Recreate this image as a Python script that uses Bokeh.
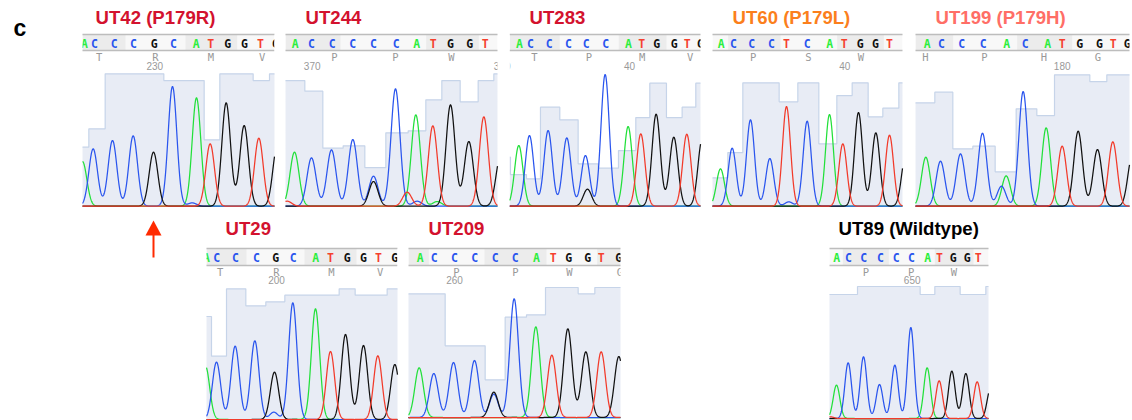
import numpy as np
from bokeh.embed import file_html
from bokeh.models import Range1d
from bokeh.plotting import figure
from bokeh.resources import INLINE
from bokeh.core.properties import value

# ---- data: positions are trace scan units (3 units = 1 screen pixel), heights are signal units
UT42_seq = "ACCCGCATGGTG"
UT42_letter_pos = [6, 36, 95, 153, 215, 273, 341, 385, 436, 486, 534, 579]
UT42_aa = "TRMV"
UT42_aa_pos = [50, 219, 385, 539]
UT42_num = ["230"]
UT42_num_pos = [217]
UT42_bands = [(0, 129), (309, 464)]
UT42_peak_base = "ACCCGCCATGGTG"
UT42_peak_pos = [0, 32, 90, 152, 213, 270, 329, 342, 383, 431, 485, 529, 584]
UT42_peak_h = [134, 172, 197, 211, 162, 359, 10, 325, 187, 310, 242, 204, 180]
UT42_q_edges = [0, 19, 68, 244, 365, 412, 512, 561, 576]
UT42_q_level = [177, 232, 397, 377, 199, 397, 377, 397]

UT244_seq = "ACCCCCATGGT"
UT244_letter_pos = [29, 78, 140, 202, 264, 332, 394, 443, 495, 553, 599]
UT244_aa = "PPW"
UT244_aa_pos = [147, 330, 498]
UT244_num = ["370", "380"]
UT244_num_pos = [80, 650]
UT244_bands = [(0, 165), (422, 580)]
UT244_peak_base = "TACCCCGCTCATGGTAG"
UT244_peak_pos = [5, 27, 78, 138, 202, 264, 264, 330, 365, 395, 391, 442, 495, 550, 595, 455, 645]
UT244_peak_h = [15, 162, 145, 169, 200, 90, 74, 352, 42, 15, 274, 241, 304, 194, 268, 14, 150]
UT244_q_edges = [0, 58, 112, 173, 238, 301, 368, 421, 469, 524, 578, 625, 636]
UT244_q_level = [377, 345, 174, 181, 116, 220, 226, 319, 377, 313, 377, 397]

UT283_seq = "ACCCCCATGGTG"
UT283_letter_pos = [29, 62, 118, 176, 229, 288, 356, 396, 441, 493, 532, 572]
UT283_aa = "TPMV"
UT283_aa_pos = [74, 237, 397, 541]
UT283_num = ["40"]
UT283_num_pos = [359]
UT283_bands = [(0, 150), (327, 470)]
UT283_peak_base = "ACCCCGCATGGTG"
UT283_peak_pos = [27, 59, 115, 171, 227, 233, 286, 355, 393, 439, 492, 531, 577]
UT283_peak_h = [182, 212, 227, 205, 152, 51, 395, 239, 217, 276, 207, 216, 200]
UT283_q_edges = [0, 2, 50, 92, 150, 205, 265, 326, 378, 420, 470, 517, 558, 573]
UT283_q_level = [147, 95, 82, 297, 259, 127, 114, 167, 266, 369, 266, 297, 369]

UT60_seq = "ACCCTCATGGT"
UT60_letter_pos = [26, 63, 118, 177, 222, 284, 352, 395, 443, 489, 531]
UT60_aa = "PSW"
UT60_aa_pos = [122, 288, 445]
UT60_num = ["40"]
UT60_num_pos = [397]
UT60_bands = [(47, 204), (374, 514)]
UT60_peak_base = "ACCCTCCATGGTG"
UT60_peak_pos = [24, 59, 114, 172, 222, 229, 284, 351, 391, 438, 490, 531, 579]
UT60_peak_h = [112, 174, 259, 143, 299, 13, 255, 275, 187, 281, 220, 213, 150]
UT60_q_edges = [0, 46, 91, 200, 256, 319, 373, 419, 467, 511, 559, 570]
UT60_q_level = [85, 161, 370, 313, 370, 187, 332, 370, 268, 294, 370]

UT199_seq = "ACCCACATGGTG"
UT199_letter_pos = [35, 78, 139, 203, 274, 329, 397, 440, 493, 552, 593, 635]
UT199_aa = "HPHG"
UT199_aa_pos = [30, 207, 385, 547]
UT199_num = ["180"]
UT199_num_pos = [440]
UT199_bands = [(0, 113), (305, 470)]
UT199_peak_base = "ACCCCACATGGTG"
UT199_peak_pos = [31, 75, 135, 201, 258, 272, 323, 392, 440, 488, 546, 592, 650]
UT199_peak_h = [147, 135, 157, 219, 60, 91, 344, 235, 180, 225, 170, 193, 150]
UT199_q_edges = [0, 58, 112, 172, 239, 302, 364, 417, 523, 574, 642]
UT199_q_level = [310, 342, 172, 180, 103, 292, 272, 394, 374, 394]

UT29_seq = "ACCCGCATGGTG"
UT29_letter_pos = [0, 31, 87, 150, 208, 260, 328, 372, 422, 471, 516, 565]
UT29_aa = "TRMV"
UT29_aa_pos = [41, 210, 375, 521]
UT29_num = ["200"]
UT29_num_pos = [210]
UT29_bands = [(0, 120), (294, 450)]
UT29_peak_base = "ACCCGCCATGGTG"
UT29_peak_pos = [-3, 30, 86, 145, 204, 202, 259, 327, 372, 417, 471, 514, 565]
UT29_peak_h = [160, 172, 220, 236, 142, 22, 350, 332, 204, 255, 222, 191, 165]
UT29_q_edges = [0, 15, 60, 118, 178, 235, 398, 446, 542, 573]
UT29_q_level = [309, 190, 392, 341, 353, 373, 392, 373, 392]

UT209_seq = "ACCCCCATGGTG"
UT209_letter_pos = [35, 77, 138, 199, 260, 320, 384, 434, 481, 538, 578, 631]
UT209_aa = "PPWG"
UT209_aa_pos = [144, 321, 483, 634]
UT209_num = ["260"]
UT209_num_pos = [138]
UT209_bands = [(0, 61), (228, 414), (566, 636)]
UT209_peak_base = "ACCCGCCATGGTG"
UT209_peak_pos = [32, 76, 135, 198, 256, 256, 317, 382, 430, 478, 532, 578, 631]
UT209_peak_h = [149, 132, 165, 171, 76, 70, 356, 272, 187, 266, 197, 197, 183]
UT209_q_edges = [0, 110, 230, 290, 354, 411, 509, 559, 636]
UT209_q_level = [371, 215, 113, 301, 308, 390, 371, 390]

UT89_seq = "ACCCCCATGGT"
UT89_letter_pos = [22, 57, 103, 153, 200, 246, 295, 330, 371, 413, 446]
UT89_aa = "PPW"
UT89_aa_pos = [109, 245, 373]
UT89_num = ["650"]
UT89_num_pos = [248]
UT89_bands = [(40, 178), (316, 432)]
UT89_peak_base = "TACCCCCATGGTG"
UT89_peak_pos = [3, 21, 56, 102, 150, 196, 244, 293, 329, 367, 409, 443, 483]
UT89_peak_h = [5, 100, 167, 185, 102, 160, 273, 152, 113, 142, 135, 110, 90]
UT89_q_edges = [0, 84, 272, 316, 392, 469, 477]
UT89_q_level = [372, 396, 372, 396, 372, 396]

SAMPLES = ["UT42 (P179R)", "UT244", "UT283", "UT60 (P179L)", "UT199 (P179H)", "UT29", "UT209", "UT89 (Wildtype)"]

# ---- layout and style (image pixels)
W, H = 1132, 420
UNITS = 3.0
TOP = dict(head0=34, head1=50, letter=43, aa=56, num=65, base=205.7)
BOT = dict(head0=248, head1=265, letter=257.5, aa=271, num=279.5, base=419)
RED, ORANGE, SALMON, INK = "#d3122e", "#fb7f1c", "#ff6e66", "#000000"
COL = {"A": "#22e03a", "C": "#2a55ee", "G": "#111111", "T": "#f23a2a"}
LETTER = {"A": "#2bee3c", "C": "#2a55ee", "G": "#111111", "T": "#f5402e"}
panels = [
    ("UT42", 82, 274, TOP, 205.7, 95, 17, RED, 13.0),
    ("UT244", 285, 497, TOP, 205.7, 305, 17, RED, 13.5),
    ("UT283", 509.3, 700, TOP, 205.7, 529, 17, RED, 12.5),
    ("UT60", 712, 902, TOP, 205.7, 732, 17, ORANGE, 12.0),
    ("UT199", 915, 1129, TOP, 205.7, 935, 17, SALMON, 13.0),
    ("UT29", 206, 397, BOT, 419, 225, 228, RED, 12.5),
    ("UT209", 408, 620, BOT, 417, 428, 228, RED, 13.0),
    ("UT89", 829, 988, BOT, 418, 838, 228, INK, 10.0),
]

p = figure(width=W, height=H, output_backend="svg", toolbar_location=None,
           x_range=Range1d(0, W), y_range=Range1d(H, 0), min_border=0,
           outline_line_color=None, background_fill_color="white", border_fill_color="white")
p.axis.visible = False
p.grid.visible = False

g = globals()
for i, (key, x0, x1, row, base, tx, ty, tcol, sigma) in enumerate(panels):
    edges = np.array(g[key + "_q_edges"], float) / UNITS + x0
    lev = np.array(g[key + "_q_level"], float) / UNITS
    edges[-1] = x1
    # quality shading as a step area
    sx = np.repeat(edges, 2)[1:-1]
    sy = base - np.repeat(lev, 2)
    p.varea(x=sx, y1=sy, y2=[base] * len(sx), fill_color="#e8ecf5")
    p.line(sx, sy, line_color="#c6d4e9", line_width=1.2)

    # header strip
    p.quad(left=[x0], right=[x1], top=[row["head0"]], bottom=[row["head1"]], fill_color="#f8f8f8", line_color=None)
    for b0, b1 in g[key + "_bands"]:
        p.quad(left=[x0 + b0 / UNITS], right=[min(x1, x0 + b1 / UNITS)], top=[row["head0"]], bottom=[row["head1"]],
               fill_color="#ececec", line_color=None)
    lx = [x0 + v / UNITS for v in g[key + "_letter_pos"]]
    seq = list(g[key + "_seq"])
    p.text(lx, [row["letter"]] * len(lx), text=seq, text_color=[LETTER[c] for c in seq],
           text_font=value("DejaVu Sans Mono"), text_font_style="bold", text_font_size="11.5px",
           text_align="center", text_baseline="middle")
    ax = [x0 + v / UNITS for v in g[key + "_aa_pos"]]
    p.text(ax, [row["aa"]] * len(ax), text=list(g[key + "_aa"]), text_color="#999999",
           text_font=value("DejaVu Sans Mono"), text_font_size="10.5px", text_align="center", text_baseline="middle")
    nx = [x0 + v / UNITS for v in g[key + "_num_pos"]]
    p.text(nx, [row["num"]] * len(nx), text=g[key + "_num"], text_color="#999999",
           text_font=value("Liberation Sans"), text_font_size="10px", text_align="center", text_baseline="middle")
    # masks so that letters are cut at the strip's ends
    p.quad(left=[x0 - 11, x1], right=[x0, x1 + 12], top=[row["head0"]] * 2, bottom=[row["num"] + 6] * 2,
           fill_color="white", line_color=None)
    p.segment(x0=[x0, x0], x1=[x1, x1], y0=[row["head0"], row["head1"]], y1=[row["head0"], row["head1"]],
              line_color="#bdbdbd", line_width=1.5)

    # traces: every peak is drawn from its read position and height
    xs = np.arange(0, (x1 - x0) * UNITS + 0.5, 0.75)
    pos = np.array(g[key + "_peak_pos"], float)
    hgt = np.array(g[key + "_peak_h"], float)
    bases = np.array(list(g[key + "_peak_base"]))
    for b in "ACGT":
        m = bases == b
        tr = np.zeros_like(xs)
        for c, h in zip(pos[m], hgt[m]):
            tr += h * np.exp(-0.5 * ((xs - c) / sigma) ** 2)
        p.line(x0 + xs / UNITS, base - tr / UNITS, line_color=COL[b], line_width=1.25, line_join="round")

    p.text([tx], [ty], text=[SAMPLES[i]], text_color=tcol, text_font=value("Liberation Sans"),
           text_font_style="bold", text_font_size="18.6px", text_align="left", text_baseline="middle")

# panel letter and arrow
p.text([13], [27], text=["c"], text_color="black", text_font=value("Liberation Sans"), text_font_style="bold",
       text_font_size="23px", text_align="left", text_baseline="middle")
p.line([153, 153], [233, 257], line_color="#ff2a00", line_width=2)
p.patch([145, 153, 161], [235, 220, 235], fill_color="#ff2a00", line_color=None)

open("out.html", "w").write(file_html(p, INLINE))
